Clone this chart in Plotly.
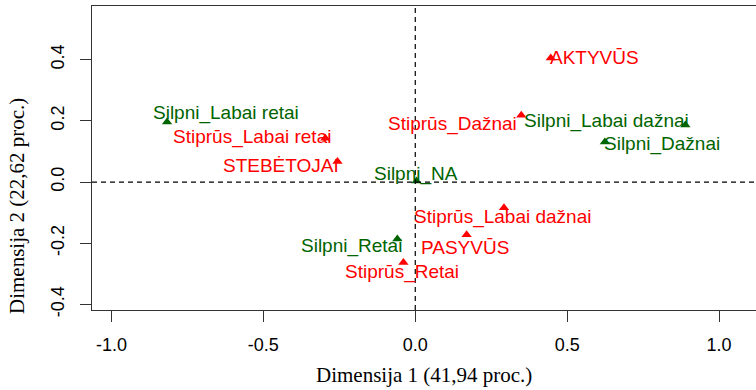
import plotly.graph_objects as go

# ---- data ----
labels = ["Silpni_Labai retai", "Stiprūs_Labai retai", "STEBĖTOJAI", "AKTYVŪS",
          "Stiprūs_Dažnai", "Silpni_Labai dažnai", "Silpni_Dažnai", "Silpni_NA",
          "Stiprūs_Labai dažnai", "PASYVŪS", "Silpni_Retai", "Stiprūs_Retai"]
dim1 = [-0.817, -0.296, -0.256, 0.446, 0.349, 0.889, 0.624, 0.004,
        0.292, 0.169, -0.059, -0.039]
dim2 = [0.196, 0.143, 0.067, 0.405, 0.218, 0.186, 0.131, 0.003,
        -0.084, -0.172, -0.186, -0.263]
groups = ["Silpni", "Stiprūs", "Aktyvumas", "Aktyvumas",
          "Stiprūs", "Silpni", "Silpni", "Silpni",
          "Stiprūs", "Aktyvumas", "Silpni", "Stiprūs"]

x_ticks = [-1.0, -0.5, 0.0, 0.5, 1.0]
x_ticktext = ["-1.0", "-0.5", "0.0", "0.5", "1.0"]
y_ticks = [-0.4, -0.2, 0.0, 0.2, 0.4]
y_ticktext = ["-0.4", "-0.2", "0.0", "0.2", "0.4"]

x_title = "Dimensija 1 (41,94 proc.)"
y_title = "Dimensija 2 (22,62 proc.)"

# ---- styles ----
RED = "#FF0000"
GREEN = "#006400"
group_color = {"Silpni": GREEN, "Stiprūs": RED, "Aktyvumas": RED}

# label placement (anchor, x shift px, y shift px (down positive)) per label
label_place = [("left", -16, -9), ("right", 8, -1), ("right", 4, 4), ("left", -3, -1),
               ("right", -2, 8.5), ("right", 6, -4.5), ("left", -3, 2.5), ("center", 0, -7),
               ("center", -1, 9.5), ("center", -2, 12.5), ("right", 7, 7), ("center", -1, 9)]

SANS = "Liberation Sans, Arial, sans-serif"
SERIF = "Liberation Serif, Times New Roman, serif"
AX = "#333333"

fig = go.Figure()

for g in ["Silpni", "Stiprūs", "Aktyvumas"]:
    xs = [x for x, gg in zip(dim1, groups) if gg == g]
    ys = [y for y, gg in zip(dim2, groups) if gg == g]
    fig.add_trace(go.Scatter(
        x=xs, y=ys, mode="markers",
        marker=dict(symbol="triangle-up", size=9, color=group_color[g], line=dict(width=0)),
        showlegend=False, hoverinfo="skip"))

annotations = []
for lab, x, y, g, (anc, dx, dy) in zip(labels, dim1, dim2, groups, label_place):
    annotations.append(dict(
        x=x, y=y, xref="x", yref="y", text=lab, showarrow=False,
        xanchor=anc, yanchor="middle", xshift=dx, yshift=-dy,
        font=dict(family=SANS, size=19, color=group_color[g])))

annotations.append(dict(
    x=0.5, y=-0.214, xref="paper", yref="paper", text=x_title, showarrow=False,
    xanchor="center", yanchor="middle",
    font=dict(family=SERIF, size=21, color="black")))
annotations.append(dict(
    x=-0.113, y=0.342, xref="paper", yref="paper", text=y_title, showarrow=False,
    xanchor="center", yanchor="middle", textangle=-90,
    font=dict(family=SERIF, size=21, color="black")))

fig.add_shape(type="line", xref="x", yref="paper", x0=0, x1=0, y0=0, y1=1,
              line=dict(color="black", width=1.2, dash="5px,4px"))
fig.add_shape(type="line", xref="paper", yref="y", x0=0, x1=1, y0=0, y1=0,
              line=dict(color="black", width=1.2, dash="5px,4px"))

fig.update_layout(
    width=756, height=390,
    margin=dict(l=92, r=0, t=6, b=80),
    paper_bgcolor="white", plot_bgcolor="white",
    annotations=annotations,
    xaxis=dict(range=[-1.064, 1.1215], tickvals=x_ticks, ticktext=x_ticktext,
               ticklabelstandoff=7,
               ticks="outside", ticklen=11, tickcolor=AX, tickwidth=1.3,
               showline=True, linecolor=AX, linewidth=1.3, mirror=True,
               showgrid=False, zeroline=False,
               tickfont=dict(family=SANS, size=18, color="black")),
    yaxis=dict(range=[-0.418, 0.575], tickvals=y_ticks, ticktext=y_ticktext,
               tickangle=-90, ticklabelstandoff=9,
               ticks="outside", ticklen=11, tickcolor=AX, tickwidth=1.3,
               showline=True, linecolor=AX, linewidth=1.3, mirror=False,
               showgrid=False, zeroline=False,
               tickfont=dict(family=SANS, size=18, color="black")),
)

fig.write_html(
    "out.html",
    config={"displayModeBar": False},
    post_script="document.body.style.margin='0';document.body.style.overflow='hidden';",
)
